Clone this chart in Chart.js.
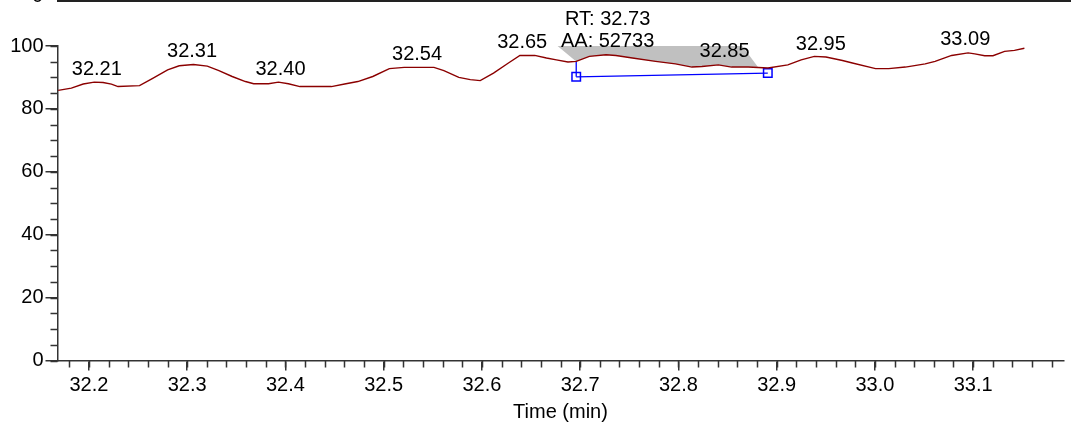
<!DOCTYPE html>
<html>
<head>
<meta charset="utf-8">
<script src="https://cdn.jsdelivr.net/npm/chart.js@4.4.1/dist/chart.umd.min.js"></script>
<style>
  html, body { margin: 0; padding: 0; background: #fff; }
  #wrap { position: relative; width: 1071px; height: 422px; overflow: hidden; }
  #upperAxis { position: absolute; left: 57px; right: 0; top: 0; height: 0; border-top: 2px solid #222; }
  #upperZero { position: absolute; left: 32px; top: -16px; font: 20px "Liberation Sans", Arial, sans-serif; color: #000; }
</style>
</head>
<body>
<div id="wrap">
  <canvas id="chromChart"></canvas>
  <div id="upperAxis"></div>
  <span id="upperZero">0</span>
</div>
<script>
// chromatogram trace (min, relative abundance)
const times = [32.1687, 32.1821, 32.1942, 32.2054, 32.2144, 32.2229, 32.2296, 32.2515, 32.2649, 32.2801,
  32.2919, 32.3064, 32.3205, 32.3323, 32.3458, 32.3593, 32.3677, 32.3828, 32.3929, 32.4030,
  32.4148, 32.4468, 32.4603, 32.4737, 32.4889, 32.5058, 32.5209, 32.5512, 32.5613, 32.5765,
  32.5882, 32.5983, 32.6118, 32.6270, 32.6387, 32.6538, 32.6657, 32.6758, 32.6876, 32.6960,
  32.7094, 32.7263, 32.7364, 32.7532, 32.7768, 32.7970, 32.8138, 32.8239, 32.8407, 32.8542,
  32.8710, 32.8912, 32.9114, 32.9250, 32.9384, 32.9502, 32.9670, 32.9771, 33.0007, 33.0141,
  33.0310, 33.0512, 33.0613, 33.0781, 33.0949, 33.1017, 33.1118, 33.1202, 33.1320, 33.1421, 33.1522];
const signal = [85.9, 86.6, 87.9, 88.5, 88.4, 87.9, 87.1, 87.4, 89.7, 92.4,
  93.7, 94.1, 93.6, 92.2, 90.3, 88.7, 88.0, 88.0, 88.5, 88.0,
  87.1, 87.1, 87.9, 88.7, 90.3, 92.8, 93.2, 93.2, 92.2, 90.0,
  89.3, 89.0, 91.4, 94.6, 97.0, 97.0, 96.2, 95.6, 94.9, 95.1,
  96.7, 97.2, 97.0, 96.2, 95.1, 94.3, 93.3, 93.5, 94.0, 93.3,
  93.3, 93.0, 94.0, 95.6, 96.7, 96.5, 95.4, 94.6, 92.8, 92.8,
  93.3, 94.3, 95.1, 97.0, 97.8, 97.5, 96.9, 96.9, 98.3, 98.6, 99.3];

// peak labels
const peakLabels = ['32.21', '32.31', '32.40', '32.54', '32.65', '32.85', '32.95', '33.09'];
const peakApex = [32.208, 32.305, 32.395, 32.534, 32.641, 32.847, 32.945, 33.092];
const peakHeights = [88.5, 94.1, 88.5, 93.2, 97.0, 94.0, 96.5, 97.8];

// integrated peak
const mainPeakText = ['RT: 32.73', 'AA: 52733'];
const mainPeakApex = 32.728;
const mainPeakHeight = 97.2;
const baselineTimes = [32.696, 32.891];
const baselineValues = [90.2, 91.4];
const dropTimes = [32.696, 32.696];
const dropValues = [95.1, 90.2];
const greyEdgeTimes = [32.677, 32.696, 32.881, 32.865];
const greyEdgeValues = [100, 95.1, 93.3, 100];

// axes
const xMin = 32.168, xMax = 33.192;
const yTicks = [0, 20, 40, 60, 80, 100];

const FONT = '"Liberation Sans", Arial, sans-serif';
const AXIS = '#333';

const trace = times.map((t, i) => ({ x: t, y: signal[i] }));
const greyArea = [
  { x: greyEdgeTimes[0], y: greyEdgeValues[0] },
  { x: greyEdgeTimes[1], y: greyEdgeValues[1] },
  ...trace.filter(p => p.x > greyEdgeTimes[1] && p.x < greyEdgeTimes[2]),
  { x: greyEdgeTimes[2], y: greyEdgeValues[2] },
  { x: greyEdgeTimes[3], y: greyEdgeValues[3] }
];

const minorTicks = {
  id: 'minorTicks',
  afterDraw(chart) {
    const { ctx, scales: { x, y } } = chart;
    ctx.save();
    ctx.strokeStyle = AXIS;
    ctx.lineWidth = 1.5;
    ctx.beginPath();
    for (let k = Math.ceil(x.min / 0.02); k * 0.02 <= x.max; k++) {
      const px = Math.round(x.getPixelForValue(k * 0.02)) + 0.5;
      ctx.moveTo(px, x.top);
      ctx.lineTo(px, x.top + 7);
    }
    for (let v = 0; v <= 100; v += 5) {
      const py = Math.round(y.getPixelForValue(v)) + 0.5;
      ctx.moveTo(y.right, py);
      ctx.lineTo(y.right - 7, py);
    }
    ctx.stroke();
    ctx.restore();
  }
};

const peakText = {
  id: 'peakText',
  afterDatasetsDraw(chart) {
    const { ctx, scales: { x, y } } = chart;
    ctx.save();
    ctx.font = '20px ' + FONT;
    ctx.fillStyle = '#000';
    ctx.textAlign = 'center';
    ctx.textBaseline = 'alphabetic';
    peakLabels.forEach((lbl, i) => {
      ctx.fillText(lbl, x.getPixelForValue(peakApex[i]), y.getPixelForValue(peakHeights[i]) - 7.5);
    });
    const mx = x.getPixelForValue(mainPeakApex);
    const my = y.getPixelForValue(mainPeakHeight) - 7.5;
    mainPeakText.forEach((line, i) => {
      ctx.fillText(line, mx, my - (mainPeakText.length - 1 - i) * 22.3);
    });
    ctx.restore();
  }
};

new Chart(document.getElementById('chromChart'), {
  type: 'scatter',
  data: {
    datasets: [
      { data: trace, showLine: true, borderColor: '#8b0000', borderWidth: 1.4, pointRadius: 0, tension: 0 },
      { data: baselineTimes.map((t, i) => ({ x: t, y: baselineValues[i] })), showLine: true,
        borderColor: '#0000ff', borderWidth: 1.3, pointStyle: 'rect', pointRadius: 6,
        pointBackgroundColor: 'rgba(0,0,0,0)', pointBorderColor: '#0000ff', pointBorderWidth: 1.5 },
      { data: dropTimes.map((t, i) => ({ x: t, y: dropValues[i] })), showLine: true,
        borderColor: '#0000ff', borderWidth: 1.3, pointRadius: 0 },
      { data: greyArea, showLine: true, borderWidth: 0, borderColor: 'rgba(0,0,0,0)',
        backgroundColor: '#c0c0c0', fill: 'shape', pointRadius: 0 }
    ]
  },
  options: {
    responsive: true,
    maintainAspectRatio: false,
    animation: false,
    devicePixelRatio: 1,
    layout: { padding: { top: 46, right: 0, bottom: 0, left: 0 } },
    plugins: { legend: { display: false }, tooltip: { enabled: false } },
    scales: {
      x: {
        type: 'linear', min: xMin, max: xMax,
        afterFit: s => { s.height = 61.5; },
        border: { display: true, color: AXIS, width: 1.5 },
        grid: { drawOnChartArea: false, drawTicks: true, tickLength: 10, color: AXIS, lineWidth: 1.5 },
        ticks: { stepSize: 0.1, includeBounds: false, padding: 3, color: '#000', maxRotation: 0,
          font: { family: FONT, size: 20 }, callback: v => v.toFixed(1) },
        title: { display: true, text: 'Time (min)', color: '#000', font: { family: FONT, size: 20 },
          padding: { top: 0, bottom: -2 } }
      },
      y: {
        min: 0, max: 100,
        afterFit: s => { s.width = 57.5; },
        afterBuildTicks: s => { s.ticks = yTicks.map(v => ({ value: v })); },
        border: { display: true, color: AXIS, width: 1.5 },
        grid: { drawOnChartArea: false, drawTicks: true, tickLength: 12, color: AXIS, lineWidth: 1.5 },
        ticks: { padding: 2, color: '#000', font: { family: FONT, size: 20 } }
      }
    }
  },
  plugins: [minorTicks, peakText]
});
</script>
</body>
</html>
